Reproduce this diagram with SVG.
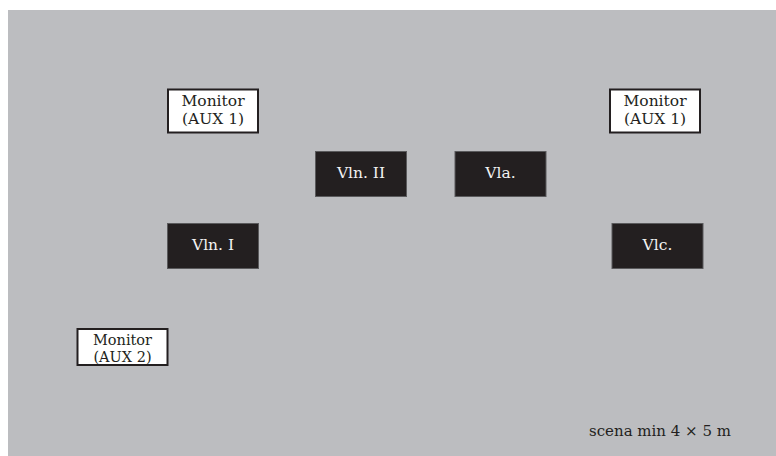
<svg xmlns="http://www.w3.org/2000/svg" width="776" height="456" viewBox="0 0 776 456">
<style>
text{font-family:"DejaVu Serif","Liberation Serif",serif;text-anchor:middle}
.mon rect{fill:#ffffff;stroke:#231f20;stroke-width:2}
.mon text{fill:#231f20;font-size:15.5px}
.mon text.s{font-size:14.5px}
.ins rect{fill:#231f20;stroke:#5a5a5c;stroke-width:1}
.ins text{fill:#f2f2f2;font-size:15.5px}
.note{fill:#231f20;font-size:15px}
</style>
<rect x="8" y="10" width="768" height="446" fill="#bcbdc0"/>
<g id="mon1l" class="mon"><rect x="168" y="89.5" width="90" height="43"/><text x="213" y="106">Monitor</text><text x="213" y="124">(AUX 1)</text></g>
<g id="mon1r" class="mon"><rect x="610" y="89.5" width="90" height="43"/><text x="655" y="106">Monitor</text><text x="655" y="124">(AUX 1)</text></g>
<g id="mon2" class="mon"><rect x="77.5" y="329" width="90" height="36"/><text class="s" x="122.5" y="344.5">Monitor</text><text class="s" x="122.5" y="361.5">(AUX 2)</text></g>
<g id="vln2" class="ins"><rect x="315.5" y="151.5" width="91" height="45"/><text x="361" y="178">Vln. II</text></g>
<g id="vla" class="ins"><rect x="455" y="151.5" width="91" height="45"/><text x="500.5" y="178">Vla.</text></g>
<g id="vln1" class="ins"><rect x="167.5" y="223.5" width="91" height="45"/><text x="213" y="250">Vln. I</text></g>
<g id="vlc" class="ins"><rect x="612" y="223.5" width="91" height="45"/><text x="657.5" y="250">Vlc.</text></g>
<g id="connectors"></g>
<text class="note" x="660" y="436">scena min 4 × 5 m</text>
</svg>
